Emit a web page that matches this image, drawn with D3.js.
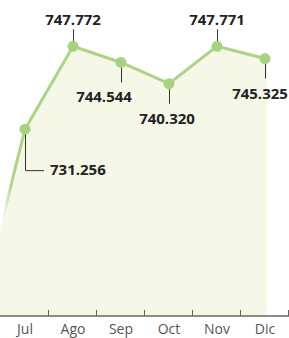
<!DOCTYPE html>
<html>
<head>
<meta charset="utf-8">
<script src="https://cdn.jsdelivr.net/npm/d3@7"></script>
<style>
  html, body { margin: 0; padding: 0; background: #fff; }
  svg { display: block; }
</style>
</head>
<body>
<svg id="chart" width="289" height="338"></svg>
<script>
// ---- data ----
const months = ["Jun", "Jul", "Ago", "Sep", "Oct", "Nov", "Dic"];
const shownMonths = ["Jul", "Ago", "Sep", "Oct", "Nov", "Dic"];
const values = [693.0, 731.256, 747.772, 744.544, 740.320, 747.771, 745.325];
const valueLabels = ["", "731.256", "747.772", "744.544", "740.320", "747.771", "745.325"];

// ---- layout / style ----
const W = 289, H = 338, axisY = 316;
const lineColor = "#acd487", dotColor = "#a7d27f", fillColor = "#f5f8e7";
const placement = { Jul: "right", Ago: "above", Sep: "below", Oct: "below", Nov: "above", Dic: "below" };
const labelShift = { Sep: -17, Oct: -2, Dic: -5 };

const svg = d3.select("#chart");
const data = months.map((m, i) => ({ m, v: values[i], label: valueLabels[i] }));

const x = d3.scaleBand().domain(months).range([-47, 289]).padding(0);
const bw = x.bandwidth();
const cx = m => x(m) + bw / 2;
const y = d3.scaleLinear().domain([694, 757]).range([axisY, 0]);

const defs = svg.append("defs");
defs.append("clipPath").attr("id", "plot")
  .append("rect").attr("x", 0).attr("y", 0).attr("width", W).attr("height", axisY);
const grad = defs.append("linearGradient").attr("id", "fade")
  .attr("gradientUnits", "userSpaceOnUse").attr("x1", 3).attr("x2", 12).attr("y1", 0).attr("y2", 0);
grad.append("stop").attr("offset", 0).attr("stop-color", lineColor).attr("stop-opacity", 0);
grad.append("stop").attr("offset", 1).attr("stop-color", lineColor).attr("stop-opacity", 1);

const g = svg.append("g").attr("clip-path", "url(#plot)");

// area (extends slightly past the last point)
const last = data[data.length - 1];
const areaData = data.concat([{ m: "_end", v: last.v, ext: true }]);
const ax = d => d.ext ? cx(last.m) + 2 : cx(d.m);
g.append("path")
  .datum(areaData)
  .attr("fill", fillColor)
  .attr("d", d3.area().x(ax).y0(axisY).y1(d => y(d.v)));

// line
g.append("path")
  .datum(data)
  .attr("fill", "none")
  .attr("stroke", "url(#fade)")
  .attr("stroke-width", 3)
  .attr("stroke-linejoin", "round")
  .attr("d", d3.line().x(d => cx(d.m)).y(d => y(d.v)));

// axis
svg.append("line").attr("x1", 0).attr("x2", W).attr("y1", axisY).attr("y2", axisY)
  .attr("stroke", "#666").attr("stroke-width", 1.3);
svg.selectAll(".tk").data(shownMonths).join("line")
  .attr("x1", d => Math.round(x(d) + bw) - 0.5).attr("x2", d => Math.round(x(d) + bw) - 0.5)
  .attr("y1", axisY - 6).attr("y2", axisY)
  .attr("stroke", "#666").attr("stroke-width", 1);
svg.selectAll(".xl").data(shownMonths).join("text")
  .attr("x", d => cx(d)).attr("y", 334)
  .attr("text-anchor", "middle")
  .attr("font-family", "'Open Sans', sans-serif").attr("font-size", 14)
  .attr("fill", "#555")
  .text(d => d);

// leaders & labels
const shown = data.filter(d => shownMonths.includes(d.m));
const lab = svg.append("g");
shown.forEach(d => {
  const px = cx(d.m), py = y(d.v), p = placement[d.m];
  const dx = labelShift[d.m] || 0;
  const t = lab.append("text")
    .attr("font-family", "'Open Sans', sans-serif").attr("font-weight", 700)
    .attr("font-size", 15).attr("fill", "#222").text(d.label);
  if (p === "above") {
    lab.append("line").attr("x1", px + 0.5).attr("x2", px + 0.5).attr("y1", py).attr("y2", py - 17)
      .attr("stroke", "#333").attr("stroke-width", 1);
    t.attr("x", px + dx).attr("y", py - 21).attr("text-anchor", "middle");
  } else if (p === "below") {
    lab.append("line").attr("x1", px + 0.5).attr("x2", px + 0.5).attr("y1", py).attr("y2", py + 20)
      .attr("stroke", "#333").attr("stroke-width", 1);
    t.attr("x", px + dx).attr("y", py + 40).attr("text-anchor", "middle");
  } else {
    lab.append("path")
      .attr("d", `M${px + 0.5},${py} V${py + 41.5} H${px + 19}`)
      .attr("fill", "none").attr("stroke", "#333").attr("stroke-width", 1);
    t.attr("x", px + 25).attr("y", py + 46).attr("text-anchor", "start");
  }
});

// dots
svg.selectAll(".dot").data(shown).join("circle")
  .attr("cx", d => cx(d.m)).attr("cy", d => y(d.v)).attr("r", 5.5)
  .attr("fill", dotColor);
</script>
</body>
</html>
